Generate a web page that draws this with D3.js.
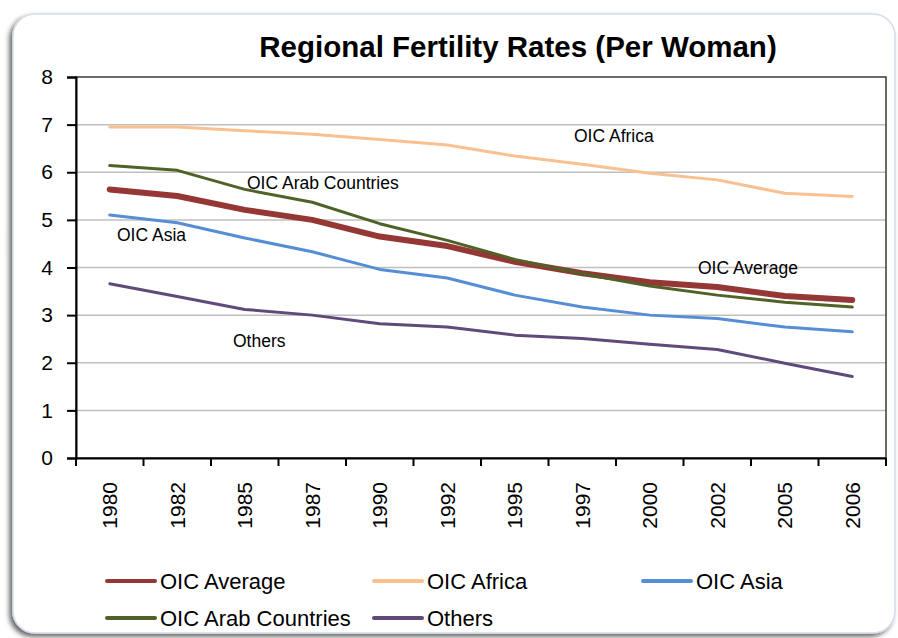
<!DOCTYPE html>
<html>
<head>
<meta charset="utf-8">
<script src="https://cdn.jsdelivr.net/npm/d3@7"></script>
<style>
  body { margin: 0; background: #fff; }
  svg { display: block; font-family: "Liberation Sans", Arial, sans-serif; }
</style>
</head>
<body>
<div id="chart"></div>
<script>
// data
var years = ["1980", "1982", "1985", "1987", "1990", "1992", "1995", "1997", "2000", "2002", "2005", "2006"];
var oicAverage = [5.64, 5.50, 5.21, 5.00, 4.65, 4.45, 4.12, 3.88, 3.69, 3.59, 3.40, 3.32];
var oicAfrica  = [6.95, 6.95, 6.87, 6.80, 6.69, 6.57, 6.34, 6.17, 5.98, 5.84, 5.56, 5.49];
var oicAsia    = [5.10, 4.94, 4.62, 4.33, 3.96, 3.78, 3.42, 3.17, 3.00, 2.93, 2.75, 2.65];
var oicArab    = [6.14, 6.04, 5.64, 5.37, 4.92, 4.57, 4.17, 3.87, 3.61, 3.42, 3.27, 3.17];
var others     = [3.66, 3.39, 3.12, 3.00, 2.82, 2.75, 2.58, 2.51, 2.39, 2.28, 1.99, 1.71];
var yTicks = [0, 1, 2, 3, 4, 5, 6, 7, 8];

var series = [
  { name: "OIC Average", values: oicAverage, color: "#953735", width: 6 },
  { name: "OIC Africa", values: oicAfrica, color: "#FAC090", width: 3 },
  { name: "OIC Asia", values: oicAsia, color: "#558ED5", width: 3 },
  { name: "OIC Arab Countries", values: oicArab, color: "#4F6228", width: 3 },
  { name: "Others", values: others, color: "#604A7B", width: 3 }
];

// labels placed inside the plot
var notes = [
  { text: "OIC Africa", x: 574, y: 142 },
  { text: "OIC Arab Countries", x: 247, y: 189 },
  { text: "OIC Asia", x: 117, y: 241 },
  { text: "OIC Average", x: 698, y: 274 },
  { text: "Others", x: 233, y: 347 }
];

var w = 898;
var h = 638;
var plotLeft = 76, plotRight = 886, plotTop = 77, plotBottom = 458;

var svg = d3.select("#chart")
  .append("svg")
  .attr("width", w)
  .attr("height", h);

// frame with shadow
var defs = svg.append("defs");
var f = defs.append("filter").attr("id", "shadow")
  .attr("x", "-5%").attr("y", "-5%").attr("width", "110%").attr("height", "110%");
f.append("feDropShadow")
  .attr("dx", -3).attr("dy", 3)
  .attr("stdDeviation", 2.5)
  .attr("flood-color", "#000")
  .attr("flood-opacity", 0.6);

svg.append("rect")
  .attr("x", 13).attr("y", 14)
  .attr("width", 882).attr("height", 619)
  .attr("rx", 22)
  .attr("fill", "#fff")
  .attr("stroke", "#d5dcea")
  .attr("stroke-width", 1.5)
  .attr("filter", "url(#shadow)");

var xScale = d3.scaleBand()
  .domain(years)
  .range([plotLeft, plotRight]);

var yScale = d3.scaleLinear()
  .domain([0, 8])
  .range([plotBottom, plotTop]);

function px(i) {
  return xScale(years[i]) + xScale.bandwidth() / 2;
}

// gridlines
svg.append("g")
  .selectAll("line")
  .data(yTicks.slice(1, -1))
  .enter()
  .append("line")
  .attr("x1", plotLeft).attr("x2", plotRight)
  .attr("y1", function(d) { return yScale(d); })
  .attr("y2", function(d) { return yScale(d); })
  .attr("stroke", "#bfbfbf")
  .attr("stroke-width", 1.5);

// plot border
svg.append("rect")
  .attr("x", plotLeft).attr("y", plotTop)
  .attr("width", plotRight - plotLeft).attr("height", plotBottom - plotTop)
  .attr("fill", "none")
  .attr("stroke", "#3a3a3a")
  .attr("stroke-width", 1.5);

// lines
var line = d3.line()
  .x(function(d, i) { return px(i); })
  .y(function(d) { return yScale(d); });

svg.append("g")
  .selectAll("path")
  .data(series)
  .enter()
  .append("path")
  .attr("d", function(d) { return line(d.values); })
  .attr("fill", "none")
  .attr("stroke", function(d) { return d.color; })
  .attr("stroke-width", function(d) { return d.width; })
  .attr("stroke-linejoin", "round")
  .attr("stroke-linecap", "round");

// Y axis
var yAxis = d3.axisLeft(yScale)
  .tickValues(yTicks)
  .tickSize(9)
  .tickPadding(14);

var gy = svg.append("g")
  .attr("transform", "translate(" + plotLeft + ",0)")
  .call(yAxis);
gy.select(".domain").attr("stroke", "#000").attr("stroke-width", 2);
gy.selectAll(".tick line").attr("stroke", "#000").attr("stroke-width", 2);
gy.selectAll("text")
  .attr("font-size", 21)
  .attr("font-family", "'Liberation Sans', Arial, sans-serif")
  .attr("fill", "#000");

// X axis
var xAxis = d3.axisBottom(xScale)
  .tickSize(0);

var gx = svg.append("g")
  .attr("transform", "translate(0," + plotBottom + ")")
  .call(xAxis);
gx.select(".domain").attr("stroke", "#000").attr("stroke-width", 2);
gx.selectAll("text")
  .attr("font-size", 21)
  .attr("font-family", "'Liberation Sans', Arial, sans-serif")
  .attr("fill", "#000")
  .attr("text-anchor", "end")
  .attr("transform", "rotate(-90)")
  .attr("x", -24)
  .attr("y", 0)
  .attr("dy", "0.36em");

// tick marks on band edges
var edges = years.map(function(d) { return xScale(d); }).concat([plotRight]);
svg.append("g")
  .selectAll("line")
  .data(edges)
  .enter()
  .append("line")
  .attr("x1", function(d) { return d; })
  .attr("x2", function(d) { return d; })
  .attr("y1", plotBottom)
  .attr("y2", plotBottom + 8)
  .attr("stroke", "#000")
  .attr("stroke-width", 2);

// title
svg.append("text")
  .attr("x", 518)
  .attr("y", 57)
  .attr("text-anchor", "middle")
  .attr("font-size", 29.5)
  .attr("font-weight", "bold")
  .attr("fill", "#000")
  .text("Regional Fertility Rates (Per Woman)");

// notes
svg.append("g")
  .selectAll("text")
  .data(notes)
  .enter()
  .append("text")
  .attr("x", function(d) { return d.x; })
  .attr("y", function(d) { return d.y; })
  .attr("font-size", 17.5)
  .attr("fill", "#000")
  .text(function(d) { return d.text; });

// legend
var legX = [107, 374, 643];
var legY = [581, 618];
var leg = svg.append("g")
  .selectAll("g")
  .data(series)
  .enter()
  .append("g")
  .attr("transform", function(d, i) {
    return "translate(" + legX[i % 3] + "," + legY[Math.floor(i / 3)] + ")";
  });

leg.append("line")
  .attr("x1", 0).attr("x2", 48)
  .attr("y1", 0).attr("y2", 0)
  .attr("stroke", function(d) { return d.color; })
  .attr("stroke-width", 4)
  .attr("stroke-linecap", "round");

leg.append("text")
  .attr("x", 53)
  .attr("y", 0)
  .attr("dy", "0.36em")
  .attr("font-size", 22)
  .attr("fill", "#000")
  .text(function(d) { return d.name; });
</script>
</body>
</html>
